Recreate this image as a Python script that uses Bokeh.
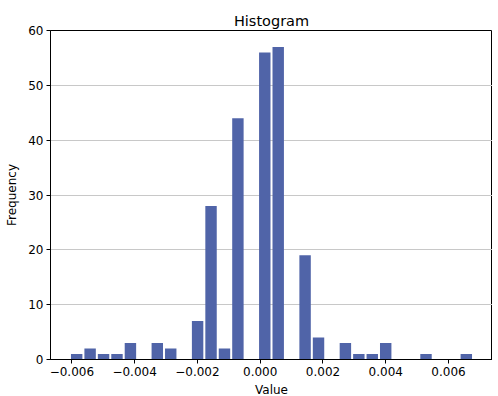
import numpy as np
from bokeh.plotting import figure
from bokeh.models import FixedTicker, Range1d, ColumnDataSource
from bokeh.embed import file_html
from bokeh.resources import INLINE

# Histogram data
bin_start = -0.00606
bin_width = 0.000428
counts = [1, 2, 1, 1, 3, 0, 3, 2, 0, 7, 28, 2, 44, 0, 56, 57, 0, 19, 4, 0,
          3, 1, 1, 3, 0, 0, 1, 0, 0, 1]
x_ticks = [-0.006, -0.004, -0.002, 0.0, 0.002, 0.004, 0.006]
x_tick_labels = ["\u22120.006", "\u22120.004", "\u22120.002", "0.000", "0.002", "0.004", "0.006"]
y_ticks = [0, 10, 20, 30, 40, 50, 60]

rwidth = 0.85
n = len(counts)
edges = bin_start + bin_width * np.arange(n + 1)
centers = (edges[:-1] + edges[1:]) / 2
half = bin_width * rwidth / 2
src = ColumnDataSource(dict(left=centers - half, right=centers + half,
                            top=counts, bottom=[0] * n))

p = figure(frame_width=442, frame_height=329, output_backend="svg",
           toolbar_location=None, title="Histogram",
           x_range=Range1d(-0.00668, 0.00740), y_range=Range1d(0, 60),
           min_border_left=50, min_border_right=0, min_border_top=30, min_border_bottom=0)

p.quad(left="left", right="right", top="top", bottom="bottom", source=src,
       fill_color="#5064a8", line_color=None)

p.title.align = "center"
p.title.text_font = "DejaVu Sans"
p.title.text_font_size = "14.5px"
p.title.text_font_style = "normal"
p.title.text_color = "black"
p.title.standoff = 4

p.xaxis.ticker = FixedTicker(ticks=x_ticks)
p.xaxis.major_label_overrides = {t: l for t, l in zip(x_ticks, x_tick_labels)}
p.yaxis.ticker = FixedTicker(ticks=y_ticks)
p.xaxis.axis_label = "Value"
p.yaxis.axis_label = "Frequency"
for ax in (p.xaxis, p.yaxis):
    ax.axis_label_text_font = "DejaVu Sans"
    ax.axis_label_text_font_size = "12px"
    ax.axis_label_text_font_style = "normal"
    ax.axis_label_text_color = "black"
    ax.major_label_text_font = "DejaVu Sans"
    ax.major_label_text_font_size = "12px"
    ax.major_label_text_color = "black"
    ax.major_tick_out = 4
    ax.major_tick_in = 0
    ax.minor_tick_out = 0
    ax.minor_tick_in = 0
    ax.axis_line_color = "black"
    ax.major_tick_line_color = "black"
    ax.major_label_standoff = 3
p.xaxis.axis_label_standoff = 4
p.yaxis.axis_label_standoff = 6
p.yaxis.major_label_orientation = "horizontal"

p.xgrid.grid_line_color = None
p.ygrid.grid_line_color = "#c8c8c8"
p.ygrid.grid_line_width = 1
p.outline_line_color = "black"
p.outline_line_alpha = 1
p.background_fill_color = "white"
p.border_fill_color = "white"

open("out.html", "w").write(file_html(p, INLINE))
